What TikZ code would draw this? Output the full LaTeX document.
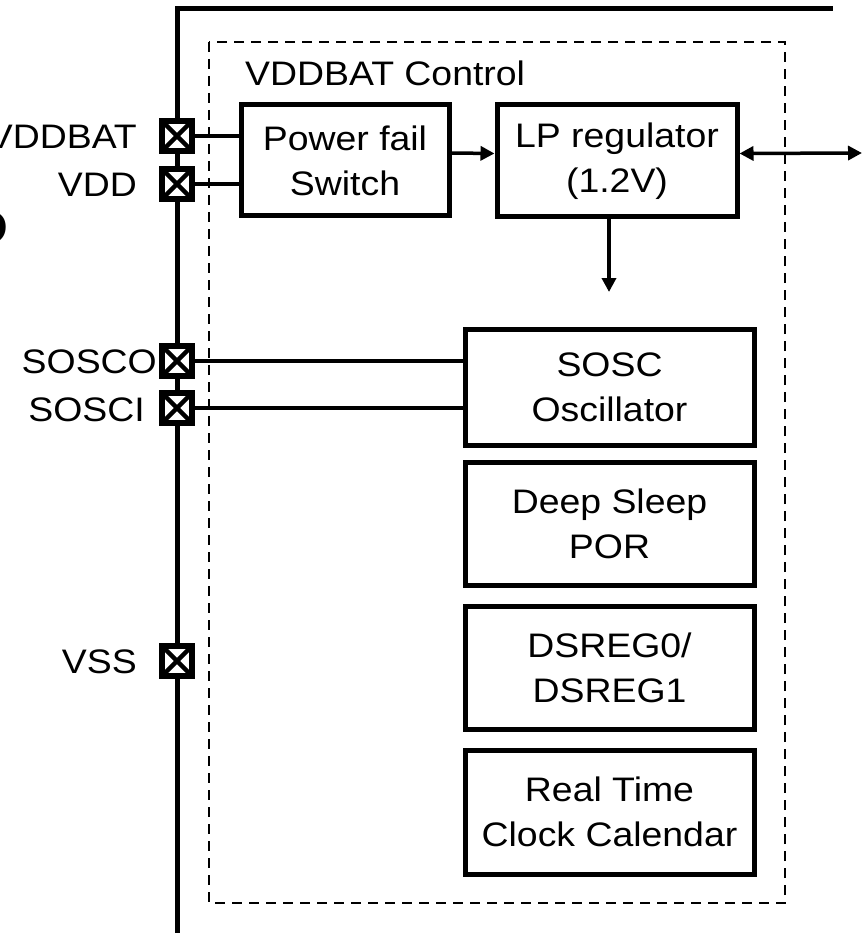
\documentclass[tikz,border=0pt]{standalone}
\usepackage{fontspec}
\setmainfont{Liberation Sans}[FakeStretch=1.1]
\usetikzlibrary{arrows.meta}
\begin{document}
\begin{tikzpicture}[x=1pt,y=-1pt,
  txt/.style={font=\fontsize{34}{45}\selectfont},
  blk/.style={draw, line width=5pt, align=center, inner sep=0pt, txt},
  pin/.style={draw, fill=white, line width=6pt, minimum size=30pt, inner sep=0pt,
    path picture={\draw[line width=4.5pt]
      (path picture bounding box.north west) -- (path picture bounding box.south east)
      (path picture bounding box.north east) -- (path picture bounding box.south west);}},
  wire/.style={line width=4.5pt},
  arr/.style={line width=3.5pt, -{Triangle[length=14pt,width=14pt]}},
  darr/.style={line width=3.5pt, {Triangle[length=14pt,width=14pt]}-{Triangle[length=14pt,width=14pt]}},
  frame/.style={line width=5pt},
  dbox/.style={line width=2.5pt, dash pattern=on 10pt off 7pt},
  lbl/.style={txt, anchor=east, inner sep=0pt}
]
\useasboundingbox (0,0) rectangle (862,933);

% cut-off bold letter at the left edge
\node[font=\fontsize{49}{50}\selectfont\bfseries, anchor=east, inner sep=0pt] (cut) at (9,228) {D};

% outer frame
\draw[frame] (177,933) -- (177,9) -- (833,9);

% dashed control region
\draw[dbox] (209,42) rectangle (785,903);
\node[txt, anchor=base west, inner sep=0pt] (title) at (245,86) {VDDBAT Control};

% pins
\node[pin] (pVDDBAT) at (177,136) {};
\node[pin] (pVDD) at (177,184) {};
\node[pin] (pSOSCO) at (177,361) {};
\node[pin] (pSOSCI) at (177,408) {};
\node[pin] (pVSS) at (177,661) {};

\node[lbl] (lVDDBAT) at (137,137) {VDDBAT};
\node[lbl] (lVDD) at (137,185) {VDD};
\node[lbl] (lSOSCO) at (157,362) {SOSCO};
\node[lbl] (lSOSCI) at (145,410) {SOSCI};
\node[lbl] (lVSS) at (137,662) {VSS};

% blocks
\node[blk, minimum width=208pt, minimum height=111pt] (pf) at (345,160.5) {Power fail\\Switch};
\node[blk, minimum width=240pt, minimum height=112pt] (lp) at (617,161) {LP regulator\\(1.2V)};
\node[blk, minimum width=289pt, minimum height=116pt] (sosc) at (609.5,387) {SOSC\\Oscillator};
\node[blk, minimum width=289pt, minimum height=123pt] (dsp) at (609.5,523.5) {Deep Sleep\\POR};
\node[blk, minimum width=289pt, minimum height=123pt] (dsreg) at (609.5,667.5) {DSREG0/\\DSREG1};
\node[blk, minimum width=289pt, minimum height=124pt] (rtcc) at (609.5,812) {Real Time\\Clock Calendar};

% wires
\draw[wire] (pVDDBAT.east) -- (pVDDBAT.east -| pf.west);
\draw[wire] (pVDD.east) -- (pVDD.east -| pf.west);
\draw[wire] (pSOSCO.east) -- (pSOSCO.east -| sosc.west);
\draw[wire] (pSOSCI.east) -- (pSOSCI.east -| sosc.west);

% arrows
\coordinate (outR) at (862,153);
\coordinate (regOut) at (609,292);
\draw[arr] ([yshift=7.5pt]pf.east) -- ([yshift=7.5pt]lp.west);
\draw[darr] ([yshift=7.5pt]lp.east) -- (outR);
\draw[arr] (lp.south -| regOut) -- (regOut);
\end{tikzpicture}
\end{document}
